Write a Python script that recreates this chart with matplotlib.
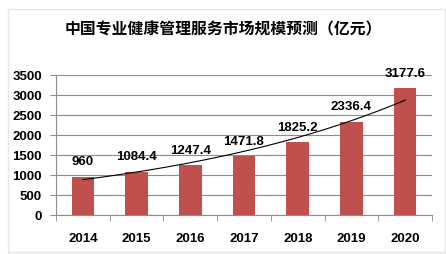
import matplotlib.pyplot as plt
import numpy as np
from matplotlib.patches import Rectangle

# data
years = ["2014", "2015", "2016", "2017", "2018", "2019", "2020"]
market_size = [960, 1084.4, 1247.4, 1471.8, 1825.2, 2336.4, 3177.6]
value_labels = ["960", "1084.4", "1247.4", "1471.8", "1825.2", "2336.4", "3177.6"]
y_ticks = [0, 500, 1000, 1500, 2000, 2500, 3000, 3500]
title = "中国专业健康管理服务市场规模预测（亿元）"

BAR_COLOR = "#C0504D"
GRID_COLOR = "#8C8C8C"
NUM_FONT = ["Liberation Sans", "DejaVu Sans"]

fig = plt.figure(figsize=(4.46, 2.54), dpi=100, facecolor="white")

# light chart-area border
fig.patches.append(Rectangle((8 / 446, 2 / 254), 437 / 446, 243 / 254,
                             transform=fig.transFigure, fill=False,
                             edgecolor="#E6E6E6", linewidth=1.0))

fig.text(0.5, 1 - 29 / 254, title, ha="center", va="center",
         fontsize=11.4, fontweight="heavy",
         family=["Noto Sans CJK SC", "DejaVu Sans"])

ax = fig.add_axes([56 / 446, 1 - 215 / 254, (432 - 56) / 446, (215 - 75) / 254])
x = np.arange(len(years))
ax.bar(x, market_size, width=0.42, color=BAR_COLOR, zorder=2)

# exponential trendline (as Excel does)
coef = np.polyfit(x, np.log(market_size), 1)
xt = np.linspace(0, len(years) - 1, 200)
ax.plot(xt, np.exp(np.polyval(coef, xt)), color="black", linewidth=0.8, zorder=3)

for xi, v, lab in zip(x, market_size, value_labels):
    ax.annotate(lab, (xi, v), xytext=(0, 6), textcoords="offset points",
                ha="center", va="bottom", fontsize=9.5, fontweight="bold",
                family=NUM_FONT, zorder=4)

ax.set_xlim(-0.5, len(years) - 0.5)
ax.set_ylim(0, 3500)
ax.set_yticks(y_ticks)
ax.set_xticks(x)
ax.set_xticklabels(years)
ax.set_xticks(np.arange(-0.5, len(years)), minor=True)
ax.tick_params(axis="x", which="major", length=0, pad=13)
ax.tick_params(axis="x", which="minor", length=4, color=GRID_COLOR, direction="out")
ax.tick_params(axis="y", length=4, color=GRID_COLOR, pad=6)
for lab in ax.get_xticklabels() + ax.get_yticklabels():
    lab.set_fontweight("bold")
    lab.set_fontsize(9.5)
    lab.set_family(NUM_FONT)

ax.grid(axis="y", color=GRID_COLOR, linewidth=0.8, zorder=0)
ax.set_axisbelow(True)
for side in ["top", "right"]:
    ax.spines[side].set_visible(False)
ax.spines["left"].set_color(GRID_COLOR)
ax.spines["bottom"].set_color(GRID_COLOR)

fig.savefig("out.png", dpi=100, facecolor="white")
